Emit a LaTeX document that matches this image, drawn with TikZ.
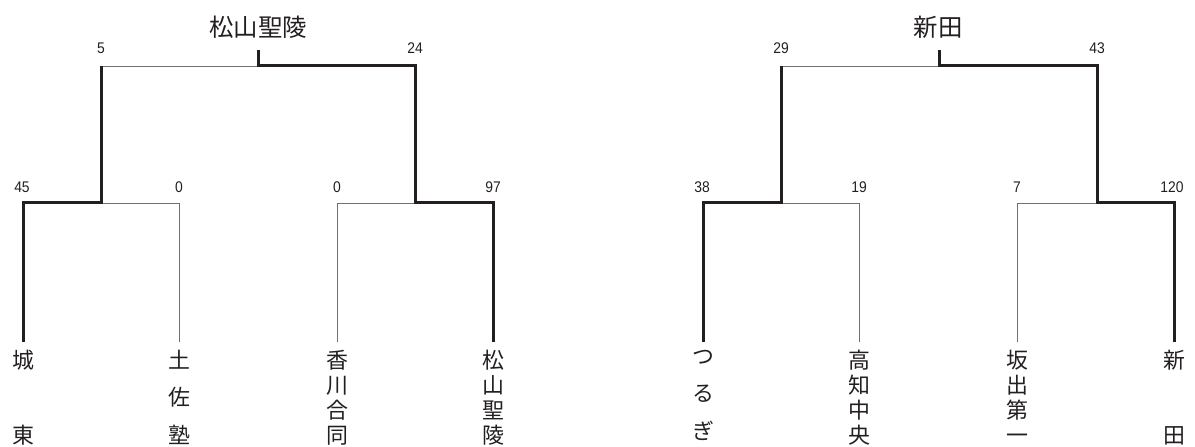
\documentclass[tikz,border=0pt]{standalone}
\usepackage{fontspec}
\setmainfont{Liberation Sans}
\newfontfamily\cjk{Noto Sans CJK JP}
\newfontfamily\numfont[FakeStretch=0.9]{Liberation Sans}
\definecolor{ink}{HTML}{231F20}
\definecolor{thingray}{HTML}{707070}
\begin{document}
\begin{tikzpicture}[x=1bp,y=-1bp,
  win/.style={draw=ink,line width=3bp},
  lose/.style={draw=thingray,line width=0.9bp},
  score/.style={font=\numfont\fontsize{15.5}{17}\selectfont,text=ink,inner sep=0pt},
  title/.style={font=\cjk\fontsize{24.5}{28}\selectfont,text=ink,inner sep=0pt},
  leafname/.style={font=\cjk\fontsize{22}{#1}\selectfont,text=ink,align=center,anchor=north,inner sep=0pt}]
\useasboundingbox (0,0) rectangle (1195,447);
% ---------- left bracket ----------
\coordinate (L1) at (23,342);
\coordinate (L2) at (179,342);
\coordinate (L3) at (337,342);
\coordinate (L4) at (493,342);
\coordinate (S1) at (101,203);
\coordinate (S2) at (415,203);
\coordinate (C1) at (101,66);
\coordinate (C2) at (415,66);
\coordinate (F1) at (258,66);
\coordinate (T1) at (258,50);
\draw[lose] (L2) |- (S1);
\draw[lose] (L3) |- (S2);
\draw[lose] (C1) -- (F1);
\draw[win] (L1) |- (S1) -- (C1);
\draw[win] (L4) |- (S2) -- (C2) -| (T1);
\node[title] (t1) at (258,27) {松山聖陵};
\node[score] (s5) at (101,48) {5};
\node[score] (s24) at (415,48) {24};
\node[score] (s45) at (22,187.5) {45};
\node[score] (s0a) at (179,187.5) {0};
\node[score] (s0b) at (337,187.5) {0};
\node[score] (s97) at (493,187.5) {97};
\node[leafname=75] (n1) at (23,350) {城\\東};
\node[leafname=37.5] (n2) at (179,350) {土\\佐\\塾};
\node[leafname=25] (n3) at (337,350) {香\\川\\合\\同};
\node[leafname=25] (n4) at (493,350) {松\\山\\聖\\陵};
% ---------- right bracket ----------
\coordinate (R1) at (703,342);
\coordinate (R2) at (859,342);
\coordinate (R3) at (1017,342);
\coordinate (R4) at (1174,342);
\coordinate (S3) at (781,203);
\coordinate (S4) at (1097,203);
\coordinate (C3) at (781,66);
\coordinate (C4) at (1097,66);
\coordinate (F2) at (939,66);
\coordinate (T2) at (939,50);
\draw[lose] (R2) |- (S3);
\draw[lose] (R3) |- (S4);
\draw[lose] (C3) -- (F2);
\draw[win] (R1) |- (S3) -- (C3);
\draw[win] (R4) |- (S4) -- (C4) -| (T2);
\node[title] (t2) at (938,27) {新田};
\node[score] (s29) at (781,48) {29};
\node[score] (s43) at (1097,48) {43};
\node[score] (s38) at (702,187.5) {38};
\node[score] (s19) at (859,187.5) {19};
\node[score] (s7) at (1017,187.5) {7};
\node[score] (s120) at (1172,187.5) {120};
\node[leafname=37.5] (n5) at (703,350) {つ\\る\\ぎ};
\node[leafname=25] (n6) at (859,350) {高\\知\\中\\央};
\node[leafname=25] (n7) at (1017,350) {坂\\出\\第\\一};
\node[leafname=75] (n8) at (1174,350) {新\\田};
\end{tikzpicture}
\end{document}
